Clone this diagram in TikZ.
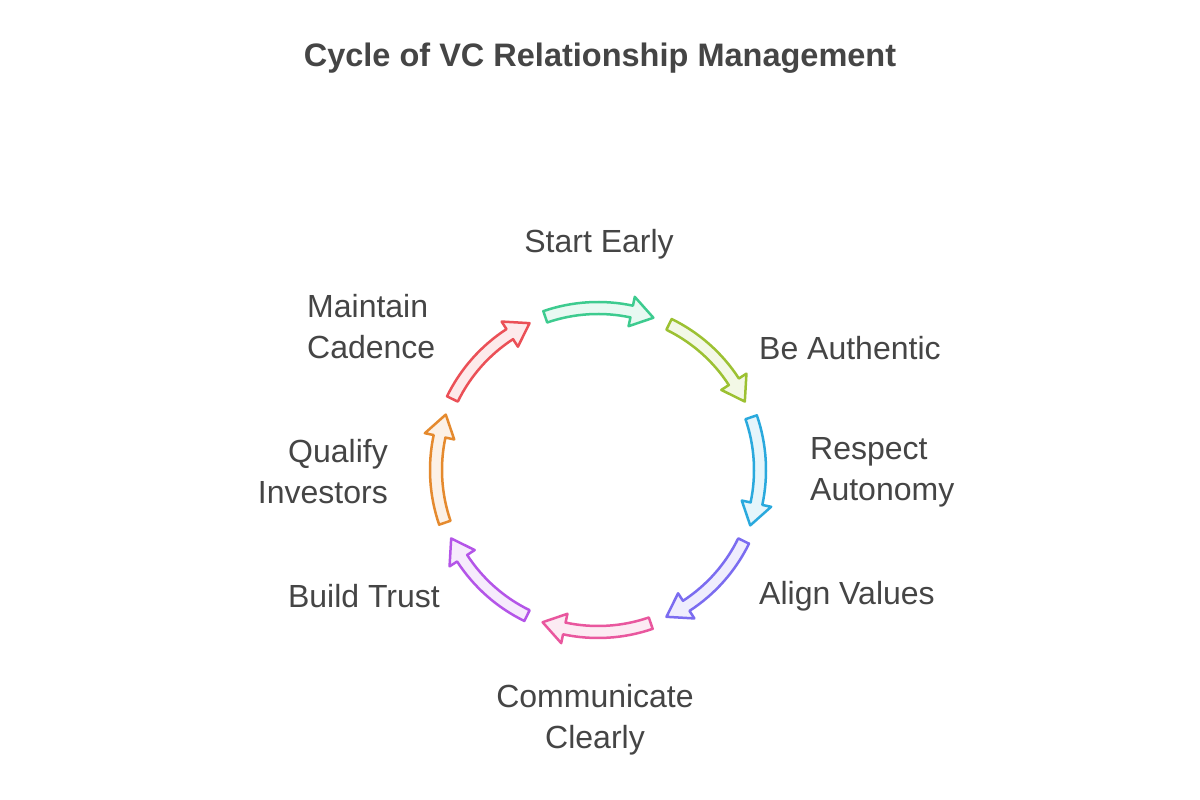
\documentclass[tikz,border=0pt]{standalone}
\usepackage{fontspec}
\setmainfont{Liberation Sans}
\usetikzlibrary{calc}
\definecolor{txt}{HTML}{454545}
\definecolor{c1}{HTML}{3DCB8F}
\definecolor{c2}{HTML}{9CC132}
\definecolor{c3}{HTML}{2AA9DD}
\definecolor{c4}{HTML}{7B6CF0}
\definecolor{c5}{HTML}{E9579E}
\definecolor{c6}{HTML}{B455E8}
\definecolor{c7}{HTML}{E58A2E}
\definecolor{c8}{HTML}{EB5057}
\tikzset{lbl/.style={text=txt,font=\fontsize{32}{41}\selectfont,inner sep=0pt}}
\begin{document}
\begin{tikzpicture}[x=1pt,y=1pt]
\useasboundingbox[fill=white] (0,0) rectangle (1200,800);
\coordinate (O) at (598,330);
\node[text=txt,font=\bfseries\fontsize{32.5}{38}\selectfont] (title) at (600,742) {Cycle of VC Relationship Management};
\foreach \k/\col in {0/c1,1/c2,2/c3,3/c4,4/c5,5/c6,6/c7,7/c8}{
  \pgfmathsetmacro{\c}{90-45*\k}
  \pgfmathsetmacro{\s}{\c+19}
  \pgfmathsetmacro{\h}{\c-12}
  \pgfmathsetmacro{\t}{\c-20}
  \draw[\col,line width=2.5pt,fill=\col!12,line join=round]
    ($(O)+(\s:168)$) arc[start angle=\s,end angle=\h,radius=168]
    -- ($(O)+(\h:177)$) -- ($(O)+(\t:162)$) -- ($(O)+(\h:147)$)
    -- ($(O)+(\h:156)$) arc[start angle=\h,end angle=\s,radius=156] -- cycle;
}
\node[lbl] (l1) at (599,556) {Start Early};
\node[lbl,anchor=west] (l2) at (759,452) {Be Authentic};
\node[lbl,anchor=west,align=left] (l3) at (810,328) {Respect\\Autonomy};
\node[lbl,anchor=west] (l4) at (759,204) {Align Values};
\node[lbl,align=center] (l5) at (595,80) {Communicate\\Clearly};
\node[lbl,anchor=east] (l6) at (440,204) {Build Trust};
\node[lbl,anchor=east,align=right] (l7) at (388,328) {Qualify\\Investors};
\node[lbl,anchor=west,align=left] (l8) at (307,473) {Maintain\\Cadence};
\end{tikzpicture}
\end{document}
